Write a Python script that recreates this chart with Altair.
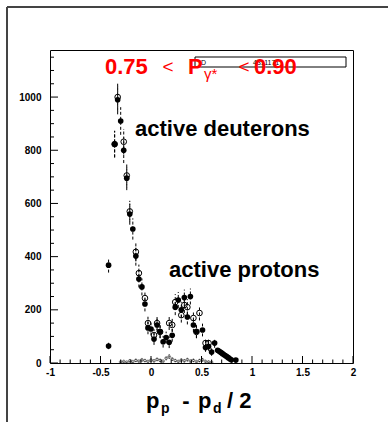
import altair as alt
import pandas as pd

# ---------------- data ----------------
# filled-circle series
fx = [-0.42, -0.42, -0.36, -0.33, -0.30, -0.27, -0.24, -0.21, -0.18, -0.15, -0.12, -0.09,
      -0.06, -0.03, 0.00, 0.03, 0.06, 0.09, 0.12, 0.15, 0.18, 0.21, 0.24, 0.27, 0.30,
      0.33, 0.36, 0.39, 0.42, 0.45, 0.51, 0.54, 0.57, 0.60, 0.63, 0.66, 0.675, 0.69,
      0.705, 0.72, 0.735, 0.75, 0.765, 0.78, 0.795, 0.84]
fy = [368, 64, 823, 990, 910, 800, 695, 560, 504, 402, 316, 286,
      222, 132, 128, 90, 143, 118, 80, 96, 78, 104, 210, 237, 200,
      246, 173, 250, 143, 118, 124, 58, 62, 41, 75, 48, 44, 40,
      36, 32, 28, 24, 20, 16, 12, 11]
fe = [28, 12, 50, 55, 52, 48, 45, 40, 40, 36, 32, 32,
      28, 24, 24, 22, 26, 24, 22, 22, 22, 24, 30, 30, 30,
      30, 28, 30, 26, 24, 24, 16, 16, 14, 18, 7, 7, 6,
      6, 6, 5, 5, 5, 4, 4, 4]

# open-circle series
ox = [-0.36, -0.33, -0.27, -0.24, -0.21, -0.15, -0.12, -0.06, -0.03, 0.03, 0.06, 0.09,
      0.18, 0.21, 0.24, 0.30, 0.33, 0.36, 0.42, 0.45, 0.48, 0.54, 0.57]
oy = [823, 1000, 832, 705, 570, 418, 338, 244, 150, 105, 150, 117,
      150, 143, 229, 180, 218, 210, 169, 117, 188, 75, 75]
oe = [50, 55, 48, 45, 40, 36, 32, 28, 24, 22, 26, 24,
      26, 26, 30, 28, 30, 30, 28, 24, 28, 18, 18]

# small series along the baseline
sx = [-0.30, -0.27, -0.24, -0.21, -0.18, -0.15, -0.12, -0.09, -0.06, -0.03, 0.00, 0.03,
      0.06, 0.09, 0.12, 0.15, 0.18, 0.21, 0.24, 0.27, 0.30, 0.33, 0.36, 0.39, 0.42,
      0.45, 0.48, 0.51, 0.54, 0.57, 0.60]
sy = [4, 6, 3, 8, 5, 10, 7, 12, 9, 6, 11, 8,
      14, 10, 7, 18, 24, 15, 9, 6, 11, 8, 13, 7, 10,
      5, 9, 12, 6, 4, 3]
se = [3, 4, 3, 5, 4, 6, 4, 7, 5, 4, 6, 5,
      7, 6, 4, 8, 9, 7, 5, 4, 6, 5, 7, 4, 6,
      3, 5, 6, 4, 3, 3]

# axes
x_labels = [-1, -0.5, 0, 0.5, 1, 1.5, 2]
x_minor = [-0.9, -0.8, -0.7, -0.6, -0.4, -0.3, -0.2, -0.1, 0.1, 0.2, 0.3, 0.4,
           0.6, 0.7, 0.8, 0.9, 1.1, 1.2, 1.3, 1.4, 1.6, 1.7, 1.8, 1.9]
y_labels = [0, 200, 400, 600, 800, 1000]
y_minor = [50, 100, 150, 250, 300, 350, 450, 500, 550, 650, 700, 750,
           850, 900, 950, 1050, 1100, 1150]

X_DOMAIN = [-1, 2]
Y_DOMAIN = [0, 1177]
FONT = "Liberation Sans"

filled = pd.DataFrame({"x": fx, "y": fy, "lo": [a - b for a, b in zip(fy, fe)],
                       "hi": [a + b for a, b in zip(fy, fe)]})
opened = pd.DataFrame({"x": ox, "y": oy, "lo": [a - b for a, b in zip(oy, oe)],
                       "hi": [a + b for a, b in zip(oy, oe)]})
small = pd.DataFrame({"x": sx, "y": sy, "lo": [max(0, a - b) for a, b in zip(sy, se)],
                      "hi": [a + b for a, b in zip(sy, se)]})

xs = alt.Scale(domain=X_DOMAIN, nice=False, zero=False)
ys = alt.Scale(domain=Y_DOMAIN, nice=False)

xax = alt.Axis(title=None, grid=False, ticks=False, tickSize=0, domain=False,
               values=x_labels, labelExpr="'' + datum.value", labelFont=FONT,
               labelFontSize=10, labelFontWeight="bold", labelColor="black",
               labelPadding=4, labelFlush=False, labelOverlap=False)
yax = alt.Axis(title=None, grid=False, ticks=False, tickSize=0, domain=False,
               values=y_labels, labelExpr="'' + datum.value", labelFont=FONT,
               labelFontSize=10, labelFontWeight="bold", labelColor="black",
               labelPadding=9, labelOverlap=False)

X = alt.X("x:Q", scale=xs, axis=xax)
Y = alt.Y("y:Q", scale=ys, axis=yax)


def errbars(df, dash, width=1.0):
    return alt.Chart(df).mark_rule(color="black", strokeWidth=width, strokeDash=dash).encode(
        x=alt.X("x:Q", scale=xs, axis=xax),
        y=alt.Y("lo:Q", scale=ys, axis=yax),
        y2="hi:Q")


layers = []
# error bars
layers.append(errbars(small, [1, 1], 0.8))
layers.append(errbars(filled, [3, 2]))
layers.append(errbars(opened, [3, 2]))

# markers
layers.append(alt.Chart(small).mark_point(shape="cross", size=8, color="black",
                                          strokeWidth=0.6, filled=False).encode(x=X, y=Y))
layers.append(alt.Chart(filled).mark_circle(size=32, color="black", opacity=1).encode(x=X, y=Y))
layers.append(alt.Chart(opened).mark_point(shape="circle", size=32, color="black",
                                           strokeWidth=1, filled=False, opacity=1).encode(x=X, y=Y))

# inner ticks
H = 313
ymaj = pd.DataFrame({"y": y_labels})
ymin = pd.DataFrame({"y": y_minor})
xmaj = pd.DataFrame({"x": x_labels})
xmin = pd.DataFrame({"x": x_minor})
layers.append(alt.Chart(ymaj).mark_rule(color="black", strokeWidth=1).encode(
    y=Y, x=alt.value(0), x2=alt.value(8)))
layers.append(alt.Chart(ymin).mark_rule(color="black", strokeWidth=1).encode(
    y=Y, x=alt.value(0), x2=alt.value(4)))
layers.append(alt.Chart(xmaj).mark_rule(color="black", strokeWidth=1).encode(
    x=X, y=alt.value(H), y2=alt.value(H - 7)))
layers.append(alt.Chart(xmin).mark_rule(color="black", strokeWidth=1).encode(
    x=X, y=alt.value(H), y2=alt.value(H - 3.5)))

one = pd.DataFrame({"a": [0]})

# outer pad border (top & left)
layers.append(alt.Chart(one).mark_rule(color="#444444", strokeWidth=2).encode(
    x=alt.value(-43), y=alt.value(-43), y2=alt.value(380)))
layers.append(alt.Chart(one).mark_rule(color="#444444", strokeWidth=2).encode(
    x=alt.value(-43), x2=alt.value(345), y=alt.value(-43)))

# stat box
layers.append(alt.Chart(one).mark_rect(fill="white", stroke="black", strokeWidth=1).encode(
    x=alt.value(145), x2=alt.value(296), y=alt.value(7), y2=alt.value(17)))


def txt(t, x, y, size, weight="bold", color="black", align="left"):
    return alt.Chart(one).mark_text(text=t, font=FONT, fontSize=size, fontWeight=weight,
                                    color=color, align=align, baseline="alphabetic").encode(
        x=alt.value(x), y=alt.value(y))


layers.append(txt("ID", 149, 15, 7, weight="normal"))
layers.append(txt("4311171", 203, 15, 7, weight="normal"))

# red title
RED = "#ff0000"
layers.append(txt("0.75", 55, 24, 22, color=RED))
layers.append(txt("<", 118, 23, 19, weight="normal", color=RED, align="center"))
layers.append(txt("P", 138, 24, 22, color=RED))
layers.append(txt("γ*", 154, 29, 15, weight="normal", color=RED))
layers.append(txt("<", 194, 23, 19, weight="normal", color=RED, align="center"))
layers.append(txt("0.90", 204, 24, 22, color=RED))

# annotations
layers.append(txt("active deuterons", 85, 86, 22))
layers.append(txt("active protons", 119, 227, 22))

# x-axis title
layers.append(txt("p", 96, 358, 22))
layers.append(txt("p", 111, 363, 14))
layers.append(txt("-", 136, 358, 22, align="center"))
layers.append(txt("p", 148, 358, 22))
layers.append(txt("d", 163, 363, 14))
layers.append(txt("/ 2", 177, 358, 22))

chart = alt.layer(*layers).properties(
    width=303, height=313,
    padding={"left": 50, "top": 50, "right": 35, "bottom": 59},
    autosize=alt.AutoSizeParams(type="none"),
    background="white",
).configure_view(stroke="black", strokeWidth=1)

chart.save("out.html", embed_options={"renderer": "svg", "actions": False})
